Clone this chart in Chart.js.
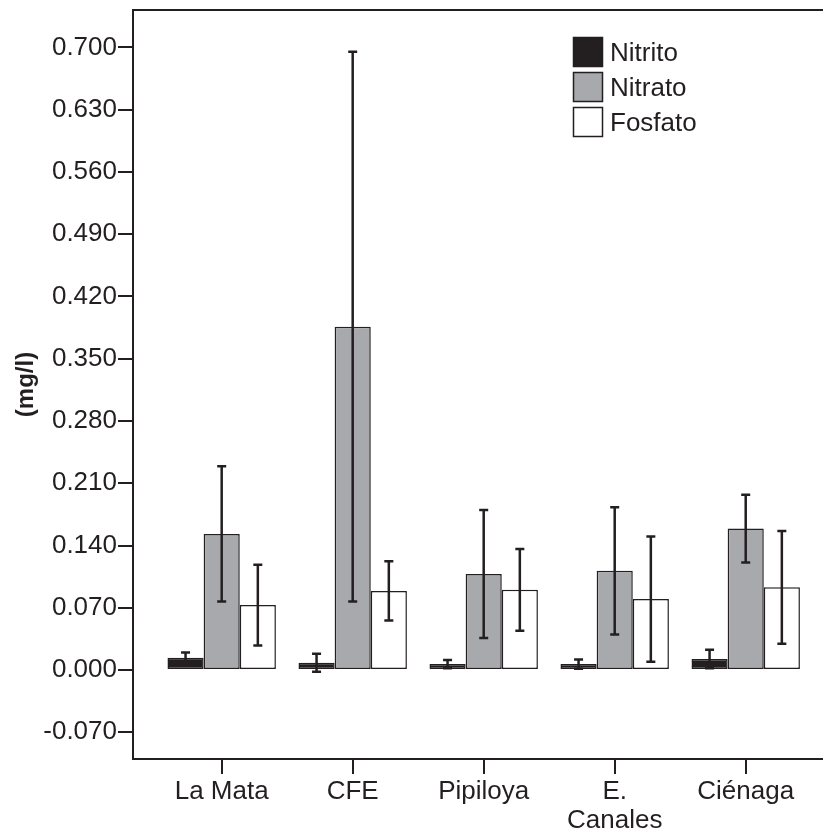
<!DOCTYPE html>
<html lang="es">
<head>
    <meta charset="UTF-8">
    <title>Nitrito, Nitrato y Fosfato por sitio</title>
    <script src="https://cdn.jsdelivr.net/npm/chart.js"></script>
    <style>
        html, body { margin: 0; padding: 0; background: #ffffff; }
        #chart { display: block; }
    </style>
</head>
<body>
    <canvas id="chart" width="823" height="833"></canvas>

    <script>
        // sites along the x axis
        const sites = ['La Mata', 'CFE', 'Pipiloya', ['E.', 'Canales'], 'Ciénaga'];

        // mean concentrations (mg/l)
        const nitrito = [0.0138, 0.0082, 0.0067, 0.0067, 0.0124];
        const nitrato = [0.153, 0.386, 0.108, 0.1115, 0.159];
        const fosfato = [0.073, 0.089, 0.0902, 0.0798, 0.093];

        // error bar half widths (mg/l)
        const nitritoErr = [0.006, 0.010, 0.0047, 0.0052, 0.0104];
        const nitratoErr = [0.076, 0.309, 0.072, 0.0715, 0.038];
        const fosfatoErr = [0.0455, 0.0333, 0.0459, 0.0704, 0.0634];

        const yTicks = [-0.07, 0, 0.07, 0.14, 0.21, 0.28, 0.35, 0.42, 0.49, 0.56, 0.63, 0.70];

        const INK = '#231f20';
        const FONT = "'Liberation Sans', Arial, Helvetica, sans-serif";

        const series = [
            { label: 'Nitrito', values: nitrito, err: nitritoErr, color: INK },
            { label: 'Nitrato', values: nitrato, err: nitratoErr, color: '#a7a9ac' },
            { label: 'Fosfato', values: fosfato, err: fosfatoErr, color: '#ffffff' },
        ];

        const errorBars = {
            id: 'errorBars',
            afterDatasetsDraw(chart) {
                const ctx = chart.ctx;
                const y = chart.scales.y;
                ctx.save();
                ctx.strokeStyle = INK;
                ctx.lineWidth = 2.5;
                series.forEach((s, d) => {
                    chart.getDatasetMeta(d).data.forEach((bar, i) => {
                        const top = y.getPixelForValue(s.values[i] + s.err[i]);
                        const bot = y.getPixelForValue(s.values[i] - s.err[i]);
                        ctx.beginPath();
                        ctx.moveTo(bar.x, top); ctx.lineTo(bar.x, bot);
                        ctx.moveTo(bar.x - 4.5, top); ctx.lineTo(bar.x + 4.5, top);
                        ctx.moveTo(bar.x - 4.5, bot); ctx.lineTo(bar.x + 4.5, bot);
                        ctx.stroke();
                    });
                });
                ctx.restore();
            }
        };

        // legend sits inside the plot, top right
        const boxLegend = {
            id: 'boxLegend',
            afterDraw(chart) {
                const ctx = chart.ctx;
                ctx.save();
                ctx.font = '26px ' + FONT;
                ctx.textBaseline = 'middle';
                ctx.textAlign = 'left';
                chart.data.datasets.forEach((ds, i) => {
                    const bx = 573.5, by = 37.5 + i * 35;
                    ctx.fillStyle = ds.backgroundColor;
                    ctx.fillRect(bx, by, 29, 29);
                    ctx.strokeStyle = INK;
                    ctx.lineWidth = 1.5;
                    ctx.strokeRect(bx, by, 29, 29);
                    ctx.fillStyle = INK;
                    ctx.fillText(ds.label, 610, by + 16);
                });
                ctx.restore();
            }
        };

        const noPad = (scale) => {
            scale.paddingTop = 0; scale.paddingBottom = 0;
            scale.paddingLeft = 0; scale.paddingRight = 0;
        };

        new Chart(document.getElementById('chart'), {
            type: 'bar',
            data: {
                datasets: series.map(s => ({
                    label: s.label,
                    data: s.values.map((v, i) => ({ x: i, y: v })),
                    backgroundColor: s.color,
                    borderColor: INK,
                    borderWidth: 1.5,
                    borderSkipped: false,
                    xAxisID: 'x',
                    yAxisID: 'y',
                }))
            },
            options: {
                responsive: false,
                animation: false,
                events: [],
                categoryPercentage: 0.8275,
                barPercentage: 1,
                layout: { padding: { top: 10, right: 0, bottom: 0, left: 0 } },
                plugins: {
                    legend: { display: false },
                    tooltip: { enabled: false }
                },
                scales: {
                    x: {
                        type: 'linear',
                        position: 'bottom',
                        offset: false,
                        min: -0.677,
                        max: 4.59,
                        afterBuildTicks: (scale) => { scale.ticks = sites.map((_, i) => ({ value: i })); },
                        afterFit: (scale) => { scale.height = 74; noPad(scale); },
                        ticks: {
                            color: INK,
                            padding: 3,
                            maxRotation: 0,
                            autoSkip: false,
                            font: { family: FONT, size: 26, lineHeight: 1.12 },
                            callback: (v) => sites[v]
                        },
                        grid: { drawOnChartArea: false, offset: false, color: INK, lineWidth: 2, tickLength: 15 },
                        border: { display: true, color: INK, width: 2 }
                    },
                    x2: {
                        type: 'linear',
                        position: 'top',
                        display: true,
                        offset: false,
                        afterFit: (scale) => { scale.height = 0; noPad(scale); },
                        ticks: { display: false },
                        grid: { display: false, drawTicks: false },
                        border: { display: true, color: INK, width: 2 }
                    },
                    y: {
                        type: 'linear',
                        position: 'left',
                        min: -0.1,
                        max: 0.742,
                        afterBuildTicks: (scale) => { scale.ticks = yTicks.map(v => ({ value: v })); },
                        afterFit: (scale) => { scale.width = 133; noPad(scale); },
                        ticks: {
                            color: INK,
                            padding: 1,
                            font: { family: FONT, size: 26 },
                            callback: (v) => v.toFixed(3)
                        },
                        grid: { drawOnChartArea: false, color: INK, lineWidth: 2, tickLength: 15 },
                        border: { display: true, color: INK, width: 2 },
                        title: {
                            display: true,
                            text: '(mg/l)',
                            color: INK,
                            padding: { top: 12, bottom: 0 },
                            font: { family: FONT, size: 24, weight: 'bold' }
                        }
                    }
                }
            },
            plugins: [errorBars, boxLegend]
        });
    </script>
</body>
</html>
